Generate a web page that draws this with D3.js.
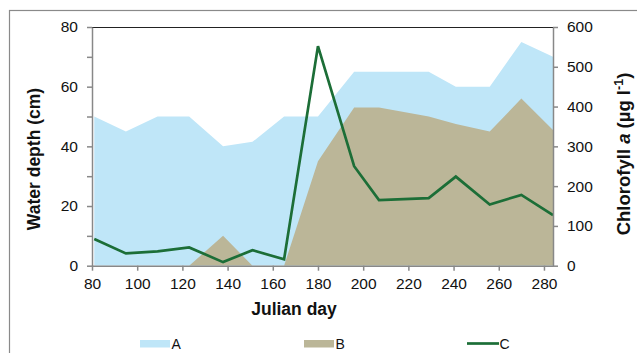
<!DOCTYPE html>
<html>
<head>
<meta charset="utf-8">
<script src="https://cdn.jsdelivr.net/npm/d3@7"></script>
<style>
  html, body { margin: 0; padding: 0; background: #fff; }
  svg { display: block; font-family: "Liberation Sans", Arial, sans-serif; }
</style>
</head>
<body>
<svg id="chart" width="637" height="353"></svg>
<script>
// Sampling days (Julian day)
const days = [81, 95, 109, 123, 138, 151, 165, 180, 196, 207, 229, 241, 256, 270, 284];
// A: water depth (cm), left axis
const seriesA = [50, 45, 50, 50, 40, 41.5, 50, 50, 65, 65, 65, 60, 60, 75, 70];
// B: left axis (cm)
const seriesB = [0, 0, 0, 0, 10, 0, 0, 35, 53, 53, 50, 47.5, 45, 56, 45.5];
// C: chlorophyll a (µg l-1), right axis
const seriesC = [67, 31, 36, 46, 9, 39, 16, 552, 250, 165, 170, 224, 154, 178, 127];

const xTicks = [80, 100, 120, 140, 160, 180, 200, 220, 240, 260, 280];
const leftTicks = [0, 20, 40, 60, 80];
const leftMinorTicks = [0, 10, 20, 30, 40, 50, 60, 70, 80];
const rightTicks = [0, 100, 200, 300, 400, 500, 600];
const legendLabels = ["A", "B", "C"];

const colA = "#bfe6f8", colB = "#bbb698", colC = "#1c6e37", axisCol = "#888888";

const svg = d3.select("#chart");
const L = 92, R = 553, T = 27, B = 265.7;

const x = d3.scaleLinear().domain([80, 284]).range([L, R]);
const yL = d3.scaleLinear().domain([0, 80]).range([B, T]);
const yR = d3.scaleLinear().domain([0, 600]).range([B, T]);

// outer chart frame
svg.append("rect").attr("x", 9.5).attr("y", 10.5).attr("width", 660).attr("height", 400)
  .attr("fill", "none").attr("stroke", "#8a8a8a").attr("stroke-width", 1.2);

svg.append("defs").append("clipPath").attr("id", "plot")
  .append("rect").attr("x", L).attr("y", T).attr("width", R - L).attr("height", B - T);

const plot = svg.append("g").attr("clip-path", "url(#plot)");

const areaA = d3.area().x((d, i) => x(days[i])).y0(B).y1(d => yL(d));
plot.append("path").datum(seriesA).attr("d", areaA).attr("fill", colA);
plot.append("path").datum(seriesB).attr("d", areaA).attr("fill", colB);

const lineC = d3.line().x((d, i) => x(days[i])).y(d => yR(d));
plot.append("path").datum(seriesC).attr("d", lineC).attr("fill", "none")
  .attr("stroke", colC).attr("stroke-width", 2.7).attr("stroke-linejoin", "miter");

// top border of plot area
svg.append("line").attr("x1", L).attr("x2", R).attr("y1", T + 0.5).attr("y2", T + 0.5)
  .attr("stroke", "#222").attr("stroke-width", 1);

const tickFont = g => g.selectAll("text").attr("font-size", 15.5).attr("fill", "#111")
  .attr("font-family", "'Liberation Sans', Arial, sans-serif");
const styleAxis = g => {
  g.select(".domain").attr("stroke", axisCol).attr("stroke-width", 1.5);
  g.selectAll(".tick line").attr("stroke", axisCol).attr("stroke-width", 1.5);
  tickFont(g);
};

// left axis with minor ticks every 10
const gL = svg.append("g").attr("transform", `translate(${L},0)`)
  .call(d3.axisLeft(yL).tickValues(leftMinorTicks).tickSize(5).tickSizeOuter(0)
    .tickFormat(d => leftTicks.includes(d) ? d : ""))
  .call(styleAxis);
gL.selectAll("text").attr("x", -14);

// right axis
const gR = svg.append("g").attr("transform", `translate(${R},0)`)
  .call(d3.axisRight(yR).tickValues(rightTicks).tickSize(5).tickSizeOuter(0))
  .call(styleAxis);
gR.selectAll("text").attr("x", 14);

// bottom axis
const gB = svg.append("g").attr("transform", `translate(0,${B})`)
  .call(d3.axisBottom(x).tickValues(xTicks).tickSize(5).tickSizeOuter(0))
  .call(styleAxis);
gB.selectAll("text").attr("y", 12);

// axis titles
svg.append("text").attr("x", 294).attr("y", 315).attr("text-anchor", "middle")
  .attr("font-size", 17.5).attr("font-weight", "bold").attr("fill", "#111").text("Julian day");

svg.append("text").attr("transform", "translate(40,159) rotate(-90)").attr("text-anchor", "middle")
  .attr("font-size", 17.5).attr("font-weight", "bold").attr("fill", "#111").text("Water depth (cm)");

const rt = svg.append("text").attr("transform", "translate(630,154) rotate(-90)").attr("text-anchor", "middle")
  .attr("font-size", 18.5).attr("font-weight", "bold").attr("fill", "#111");
rt.append("tspan").text("Chlorofyll ");
rt.append("tspan").attr("font-style", "italic").text("a");
rt.append("tspan").text(" (µg l");
rt.append("tspan").attr("dy", -7).attr("font-size", 12.5).text("-1");
rt.append("tspan").attr("dy", 7).text(")");

// legend
const legX = [140, 304, 467];
const leg = svg.append("g");
legendLabels.forEach((lab, i) => {
  if (i < 2) {
    leg.append("rect").attr("x", legX[i]).attr("y", 340).attr("width", 30).attr("height", 7.5)
      .attr("fill", i === 0 ? colA : colB);
  } else {
    leg.append("line").attr("x1", legX[i]).attr("x2", legX[i] + 32).attr("y1", 343.5).attr("y2", 343.5)
      .attr("stroke", colC).attr("stroke-width", 2.7);
  }
  leg.append("text").attr("x", legX[i] + (i < 2 ? 31.5 : 32.5)).attr("y", 348.5)
    .attr("font-size", 14).attr("fill", "#111").text(lab);
});
</script>
</body>
</html>
